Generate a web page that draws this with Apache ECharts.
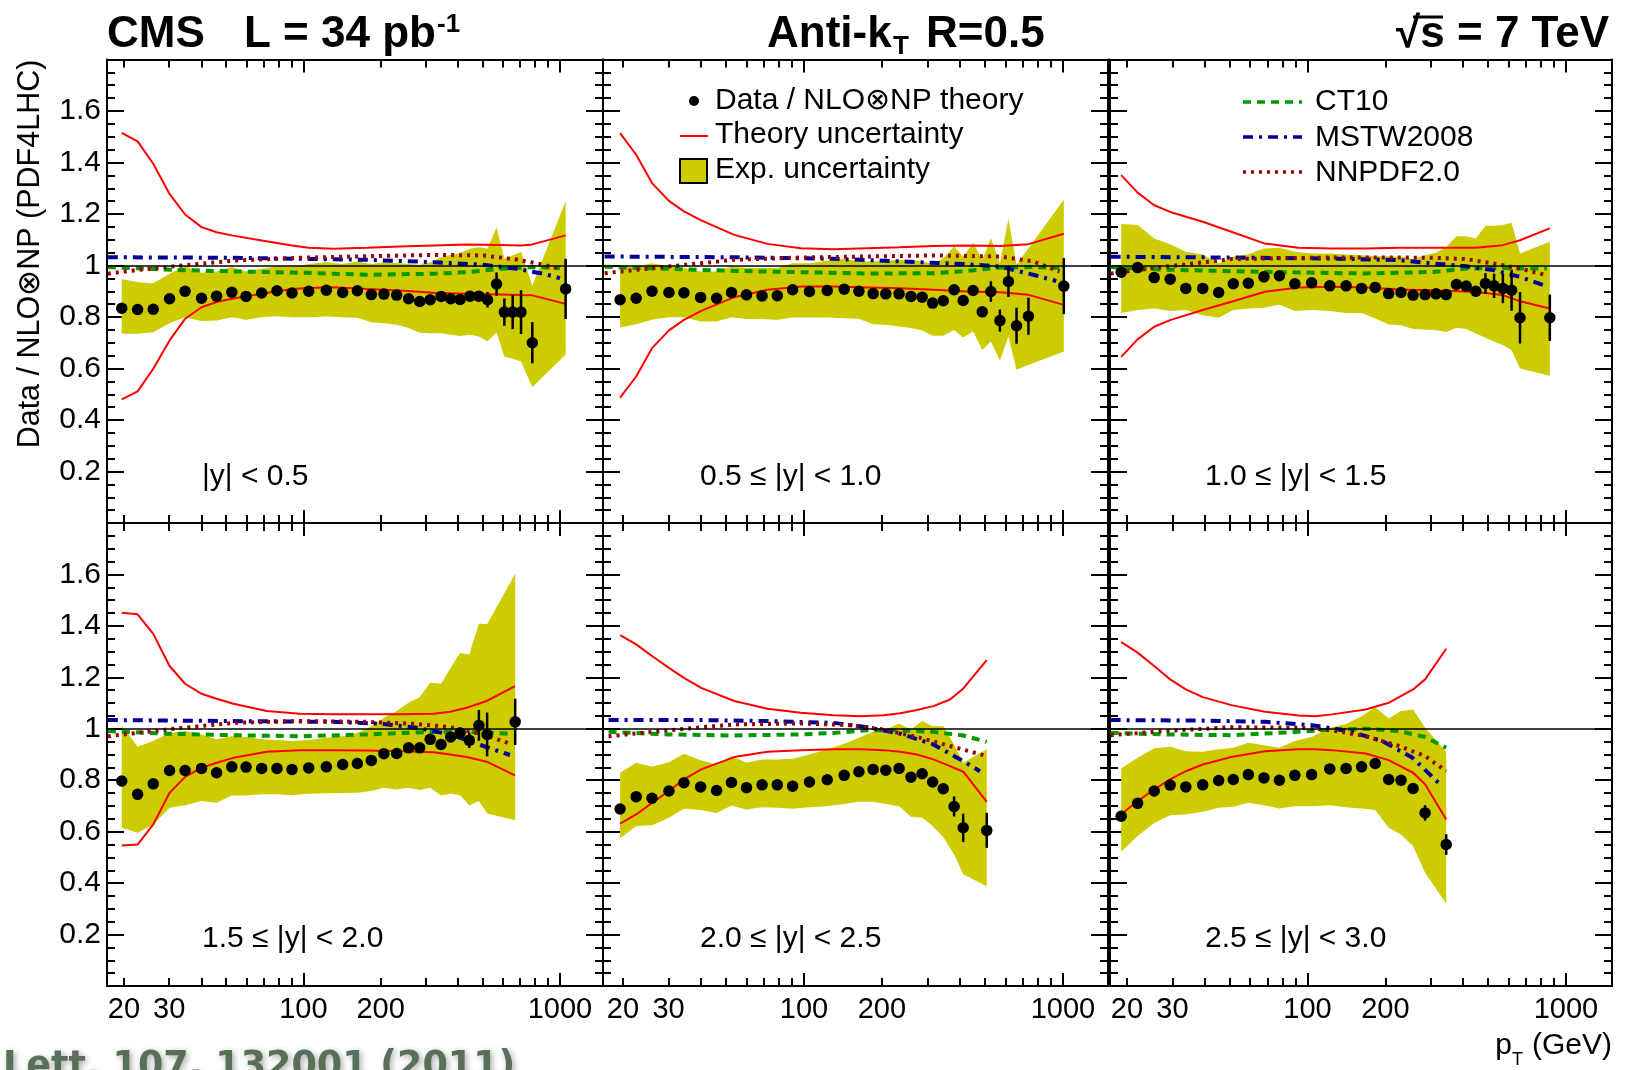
<!DOCTYPE html>
<html><head><meta charset="utf-8">
<script src="https://cdn.jsdelivr.net/npm/echarts@6/dist/echarts.min.js"></script>
<style>html,body{margin:0;padding:0;background:#fff}#c{width:1626px;height:1070px}</style>
</head><body><div id="c"></div><script>
// ---------- DATA ----------
const binLabels = ['|y| < 0.5','0.5 \u2264 |y| < 1.0','1.0 \u2264 |y| < 1.5','1.5 \u2264 |y| < 2.0','2.0 \u2264 |y| < 2.5','2.5 \u2264 |y| < 3.0'];
const xMinorTicks = [20,30,40,50,60,70,80,90,200,300,400,500,600,700,800,900];
const xMajorTicks = [100,1000];
const xTickLabels = [20,30,100,200,1000];

// |y|<0.5
const pt1 = [19.6,22.6,26.0,30.1,34.6,40.1,45.9,52.6,59.8,68.8,78.9,90.3,104.9,122.9,142.3,162.3,184,206,231,257,284,312,344,375,408,446,483,522,566,607,654,705,780,1052];
const ratio1 = [0.834,0.829,0.830,0.871,0.900,0.873,0.881,0.896,0.880,0.893,0.902,0.893,0.900,0.904,0.895,0.902,0.887,0.889,0.885,0.871,0.860,0.867,0.880,0.871,0.868,0.881,0.881,0.867,0.928,0.819,0.819,0.819,0.700,0.909];
const err1 = [0.004,0.004,0.004,0.004,0.004,0.004,0.004,0.004,0.004,0.004,0.004,0.004,0.004,0.004,0.005,0.005,0.005,0.005,0.006,0.006,0.007,0.008,0.009,0.010,0.012,0.015,0.020,0.030,0.045,0.053,0.066,0.085,0.080,0.117];
const expHi1 = [0.948,0.935,0.931,0.968,0.997,0.972,0.977,0.994,0.977,0.987,0.997,0.994,1.006,1.013,1.006,1.016,1.006,1.013,1.010,1.006,1.003,1.013,1.032,1.041,1.049,1.065,1.071,1.065,1.149,1.026,1.039,1.052,0.922,1.250];
const expLo1 = [0.735,0.735,0.741,0.776,0.799,0.784,0.786,0.799,0.789,0.799,0.803,0.799,0.799,0.802,0.799,0.797,0.780,0.776,0.770,0.757,0.739,0.737,0.737,0.731,0.726,0.731,0.724,0.706,0.741,0.647,0.638,0.627,0.527,0.654];
const thX1 = [19.6,22.6,26.0,30.1,34.6,40.1,45.9,52.6,68.8,90.3,104.9,130.9,176.5,238,321,433,584,705,780,1052];
const thUp1 = [1.515,1.482,1.395,1.278,1.198,1.149,1.129,1.117,1.097,1.078,1.069,1.065,1.069,1.074,1.078,1.082,1.080,1.078,1.082,1.117];
const thDn1 = [0.480,0.511,0.599,0.709,0.793,0.838,0.858,0.871,0.890,0.909,0.913,0.916,0.909,0.903,0.894,0.890,0.887,0.885,0.884,0.851];
const ct10X1 = [17.3,31.6,53.4,97,176.5,321,433,584,787,1000];
const ct10_1 = [0.994,0.983,0.977,0.972,0.964,0.968,0.974,0.987,0.994,0.990];
const mstwX1 = [17.3,53.4,176.5,321,503,678,861,1000];
const mstw_1 = [1.032,1.030,1.022,1.013,1.003,0.987,0.968,0.951];
const nnpdfX1 = [17.3,21.8,31.6,53.4,97,176.5,321,503,678,861,1000];
const nnpdf_1 = [0.968,0.981,0.997,1.019,1.030,1.036,1.041,1.039,1.023,1.003,0.987];

// 0.5<=|y|<1.0
const pt2 = [19.5,22.5,25.9,30.1,34.4,39.9,46,52.5,60,68.9,78.9,90.4,105,123,143,163,185,207,233,259,286,314,345,380,412,450,488,527,571,616,662,736,1008];
const ratio2 = [0.867,0.873,0.900,0.895,0.894,0.876,0.873,0.895,0.886,0.882,0.883,0.906,0.899,0.903,0.908,0.900,0.891,0.890,0.890,0.880,0.877,0.854,0.863,0.906,0.864,0.903,0.820,0.899,0.786,0.938,0.766,0.803,0.920];
const err2 = [0.004,0.004,0.004,0.004,0.004,0.004,0.004,0.004,0.004,0.004,0.004,0.004,0.004,0.004,0.005,0.005,0.005,0.005,0.006,0.006,0.007,0.008,0.009,0.010,0.012,0.015,0.020,0.040,0.043,0.060,0.070,0.072,0.109];
const expHi2 = [0.996,0.996,1.009,0.996,0.990,0.977,0.977,0.996,0.990,0.990,0.990,1.009,1.009,1.018,1.026,1.016,1.016,1.018,1.022,1.018,1.018,1.003,1.028,1.074,1.035,1.087,1.022,1.106,1.009,1.181,1.003,1.067,1.255];
const expLo2 = [0.759,0.772,0.789,0.799,0.799,0.783,0.783,0.799,0.792,0.792,0.789,0.798,0.798,0.798,0.795,0.793,0.772,0.770,0.763,0.757,0.748,0.727,0.727,0.750,0.720,0.744,0.672,0.705,0.631,0.724,0.595,0.614,0.666];
const thX2 = [19.5,22.5,25.9,30.1,34.4,40.1,53.8,72.3,97.1,130.4,175.2,235.4,316,425,571,736,1008];
const thUp2 = [1.514,1.430,1.320,1.251,1.210,1.175,1.119,1.084,1.067,1.063,1.067,1.071,1.076,1.078,1.076,1.083,1.123];
const thDn2 = [0.487,0.569,0.679,0.748,0.789,0.824,0.877,0.906,0.918,0.918,0.915,0.912,0.906,0.899,0.896,0.886,0.847];
const ct10X2 = [17.0,29.8,53.8,97.1,175.2,316,425,571,767,970];
const ct10_2 = [0.995,0.987,0.979,0.974,0.969,0.970,0.979,0.992,0.994,0.990];
const mstwX2 = [17.0,53.8,130.4,235.4,425,571,767,942];
const mstw_2 = [1.035,1.032,1.026,1.016,1.005,0.996,0.964,0.940];
const nnpdfX2 = [17.0,29.8,53.8,97.1,175.2,316,571,767,970];
const nnpdf_2 = [0.970,0.996,1.022,1.031,1.035,1.039,1.035,1.016,0.977];

// 1.0<=|y|<1.5
const pt3 = [19.0,22.0,25.5,29.4,33.8,39.3,45.3,51.6,59,67.8,77.8,89.3,103.7,121.9,141,161.8,182.8,206,230,256,285,314,344,377,411,448,488,527,570,616,664,866];
const ratio3 = [0.974,0.992,0.953,0.947,0.911,0.911,0.895,0.929,0.931,0.956,0.960,0.929,0.933,0.921,0.921,0.911,0.915,0.891,0.895,0.885,0.887,0.890,0.887,0.926,0.920,0.900,0.930,0.921,0.911,0.904,0.797,0.797];
const err3 = [0.004,0.004,0.004,0.004,0.004,0.004,0.004,0.004,0.004,0.004,0.004,0.004,0.004,0.004,0.005,0.005,0.005,0.006,0.006,0.007,0.008,0.009,0.010,0.012,0.015,0.020,0.040,0.047,0.057,0.080,0.100,0.090];
const expHi3 = [1.161,1.157,1.105,1.083,1.053,1.043,1.008,1.034,1.044,1.066,1.069,1.053,1.047,1.047,1.043,1.040,1.036,1.036,1.034,1.025,1.040,1.050,1.072,1.114,1.114,1.105,1.154,1.154,1.157,1.166,1.047,1.092];
const expLo3 = [0.816,0.827,0.833,0.823,0.827,0.807,0.797,0.827,0.833,0.836,0.849,0.823,0.827,0.823,0.816,0.816,0.794,0.771,0.768,0.753,0.751,0.749,0.742,0.758,0.753,0.736,0.719,0.704,0.691,0.671,0.600,0.572];
const thX3 = [19.0,22.0,25.5,29.4,39.3,50.7,68.4,92.2,124.4,167.8,226.2,305,448,570,664,866];
const thUp3 = [1.351,1.283,1.234,1.208,1.170,1.131,1.085,1.069,1.066,1.066,1.069,1.069,1.069,1.079,1.098,1.144];
const thDn3 = [0.645,0.713,0.762,0.788,0.827,0.859,0.898,0.915,0.917,0.915,0.907,0.904,0.897,0.885,0.861,0.833];
const ct10X3 = [17.3,27.9,50.7,92.2,167.8,305,411,555,664,843];
const ct10_3 = [0.994,0.984,0.978,0.973,0.969,0.975,0.988,0.991,0.988,0.988];
const mstwX3 = [17.3,50.7,124.4,226.2,305,411,522,664,818];
const mstw_3 = [1.034,1.031,1.027,1.021,1.008,0.997,0.982,0.956,0.924];
const nnpdfX3 = [17.3,27.9,50.7,124.4,226.2,305,411,522,664,843];
const nnpdf_3 = [0.969,0.995,1.025,1.031,1.031,1.030,1.025,1.008,0.988,0.962];

// 1.5<=|y|<2.0
const pt4 = [19.6,22.6,26.0,30.1,34.6,40.1,45.9,52.6,59.8,68.8,78.9,90.3,104.9,122.9,142.3,162.3,184,206,231,257,284,312,344,375,408,443,483,520,669];
const ratio4 = [0.797,0.745,0.786,0.838,0.838,0.846,0.829,0.852,0.851,0.846,0.846,0.842,0.848,0.852,0.861,0.865,0.877,0.903,0.904,0.926,0.926,0.959,0.939,0.968,0.984,0.955,1.013,0.978,1.027];
const err4 = [0.004,0.004,0.004,0.004,0.004,0.004,0.004,0.004,0.004,0.004,0.004,0.004,0.004,0.004,0.005,0.005,0.006,0.007,0.008,0.009,0.010,0.012,0.015,0.018,0.020,0.030,0.060,0.085,0.090];
const expHi4 = [1.013,0.930,0.952,0.984,0.991,0.978,0.959,0.971,0.968,0.959,0.956,0.952,0.956,0.965,0.971,0.984,1.010,1.043,1.069,1.101,1.123,1.179,1.175,1.237,1.295,1.289,1.408,1.406,1.603];
const expLo4 = [0.615,0.596,0.628,0.693,0.703,0.719,0.712,0.741,0.741,0.745,0.745,0.742,0.747,0.749,0.750,0.751,0.758,0.771,0.764,0.771,0.762,0.771,0.741,0.747,0.742,0.702,0.719,0.671,0.644];
const thX4 = [19.6,22.6,26.0,30.1,34.6,40.1,45.9,53.4,72,97,130.9,176.5,238,321,373,433,518,668];
const thUp4 = [1.451,1.445,1.369,1.244,1.175,1.136,1.117,1.097,1.069,1.058,1.056,1.056,1.056,1.058,1.066,1.082,1.108,1.166];
const thDn4 = [0.546,0.550,0.628,0.751,0.813,0.848,0.868,0.887,0.911,0.917,0.917,0.916,0.913,0.909,0.900,0.890,0.872,0.819];
const ct10X4 = [17.3,29.3,53.4,97,176.5,321,433,638];
const ct10_4 = [0.991,0.981,0.975,0.971,0.978,0.988,0.988,0.981];
const mstwX4 = [17.3,53.4,130.9,205,276,373,503,638];
const mstw_4 = [1.034,1.030,1.027,1.019,1.004,0.978,0.933,0.898];
const nnpdfX4 = [17.3,29.3,53.4,97,176.5,276,373,503,638];
const nnpdf_4 = [0.971,0.997,1.023,1.030,1.027,1.019,1.006,0.978,0.942];

// 2.0<=|y|<2.5
const pt5 = [19.5,22.5,25.9,30.1,34.4,39.9,46,52.5,60,68.9,78.9,90.4,105,123,143,163,185,207,233,259,286,314,345,380,412,508];
const ratio5 = [0.688,0.736,0.730,0.758,0.790,0.774,0.760,0.791,0.771,0.782,0.782,0.777,0.793,0.802,0.819,0.833,0.842,0.839,0.846,0.812,0.825,0.793,0.767,0.698,0.615,0.605];
const err5 = [0.004,0.004,0.004,0.004,0.004,0.004,0.004,0.004,0.004,0.004,0.004,0.004,0.004,0.004,0.005,0.005,0.006,0.007,0.008,0.009,0.010,0.012,0.020,0.039,0.055,0.068];
const expHi5 = [0.829,0.868,0.852,0.870,0.903,0.878,0.861,0.894,0.868,0.881,0.881,0.883,0.900,0.920,0.942,0.965,0.988,0.997,1.021,0.997,1.030,1.010,1.010,0.939,0.868,0.920];
const expLo5 = [0.574,0.622,0.625,0.654,0.689,0.684,0.673,0.702,0.686,0.695,0.693,0.689,0.695,0.699,0.708,0.716,0.716,0.708,0.699,0.658,0.654,0.622,0.579,0.511,0.434,0.388];
const thX5 = [19.5,22.5,25.9,30.1,34.4,40.1,53.8,72.3,97.1,130.4,165.2,203,235.4,272.9,316,366.5,412.5,508];
const thUp5 = [1.364,1.328,1.283,1.237,1.198,1.159,1.108,1.078,1.062,1.053,1.049,1.053,1.060,1.073,1.088,1.114,1.157,1.267];
const thDn5 = [0.631,0.667,0.712,0.758,0.803,0.842,0.890,0.911,0.917,0.920,0.920,0.917,0.911,0.900,0.881,0.855,0.833,0.716];
const ct10X5 = [17.6,29.8,53.8,97.1,130.4,175.2,235.4,316,412.5,508];
const ct10_5 = [0.988,0.978,0.974,0.978,0.984,0.994,0.994,0.988,0.974,0.949];
const mstwX5 = [17.6,40.1,72.3,130.4,175.2,235.4,316,412.5,478];
const mstw_5 = [1.034,1.034,1.030,1.023,1.006,0.981,0.939,0.874,0.835];
const nnpdfX5 = [17.6,29.8,53.8,97.1,151.2,203,272.9,366.5,508];
const nnpdf_5 = [0.971,0.994,1.017,1.021,1.014,0.997,0.968,0.933,0.894];

// 2.5<=|y|<3.0
const pt6 = [19.0,22.0,25.5,29.4,33.8,39.3,45.3,51.6,59,67.8,77.8,89.3,103.7,121.9,141,161.8,182.8,206,230,256,285,344];
const ratio6 = [0.660,0.710,0.758,0.781,0.774,0.782,0.799,0.803,0.822,0.809,0.800,0.819,0.822,0.844,0.846,0.852,0.865,0.803,0.800,0.768,0.673,0.550];
const err6 = [0.004,0.004,0.004,0.004,0.004,0.004,0.004,0.004,0.004,0.004,0.004,0.004,0.004,0.004,0.005,0.005,0.006,0.007,0.008,0.010,0.030,0.040];
const expHi6 = [0.846,0.887,0.924,0.930,0.913,0.911,0.920,0.926,0.946,0.936,0.926,0.952,0.968,1.004,1.019,1.049,1.084,1.040,1.069,1.075,1.004,0.911];
const expLo6 = [0.522,0.583,0.634,0.664,0.667,0.677,0.693,0.697,0.712,0.703,0.690,0.699,0.699,0.703,0.695,0.690,0.684,0.615,0.589,0.544,0.440,0.320];
const thX6 = [19.0,22.0,25.5,29.4,33.8,39.3,50.7,68.4,92.2,107.1,124.4,167.8,206,256,285,344];
const thUp6 = [1.337,1.296,1.244,1.192,1.153,1.123,1.092,1.066,1.052,1.049,1.056,1.075,1.101,1.153,1.192,1.311];
const thDn6 = [0.667,0.719,0.764,0.803,0.835,0.861,0.890,0.913,0.920,0.920,0.917,0.904,0.878,0.829,0.784,0.647];
const ct10X6 = [17.3,27.9,50.7,92.2,124.4,167.8,226.2,285,344];
const ct10_6 = [0.984,0.978,0.975,0.988,0.997,1.000,0.991,0.968,0.926];
const mstwX6 = [17.3,37.6,68.4,104,144.5,194.8,255,324];
const mstw_6 = [1.034,1.032,1.027,1.014,0.991,0.952,0.887,0.786];
const nnpdfX6 = [17.3,27.9,50.7,92.2,124.4,167.8,226.2,285,344];
const nnpdf_6 = [0.975,0.991,1.006,1.004,0.994,0.971,0.933,0.894,0.835];

// ---------- BUILD ----------
const panels = [
  {pt:pt1,r:ratio1,e:err1,hi:expHi1,lo:expLo1,thX:thX1,thU:thUp1,thD:thDn1,cX:ct10X1,c:ct10_1,mX:mstwX1,m:mstw_1,nX:nnpdfX1,n:nnpdf_1},
  {pt:pt2,r:ratio2,e:err2,hi:expHi2,lo:expLo2,thX:thX2,thU:thUp2,thD:thDn2,cX:ct10X2,c:ct10_2,mX:mstwX2,m:mstw_2,nX:nnpdfX2,n:nnpdf_2},
  {pt:pt3,r:ratio3,e:err3,hi:expHi3,lo:expLo3,thX:thX3,thU:thUp3,thD:thDn3,cX:ct10X3,c:ct10_3,mX:mstwX3,m:mstw_3,nX:nnpdfX3,n:nnpdf_3},
  {pt:pt4,r:ratio4,e:err4,hi:expHi4,lo:expLo4,thX:thX4,thU:thUp4,thD:thDn4,cX:ct10X4,c:ct10_4,mX:mstwX4,m:mstw_4,nX:nnpdfX4,n:nnpdf_4},
  {pt:pt5,r:ratio5,e:err5,hi:expHi5,lo:expLo5,thX:thX5,thU:thUp5,thD:thDn5,cX:ct10X5,c:ct10_5,mX:mstwX5,m:mstw_5,nX:nnpdfX5,n:nnpdf_5},
  {pt:pt6,r:ratio6,e:err6,hi:expHi6,lo:expLo6,thX:thX6,thU:thUp6,thD:thDn6,cX:ct10X6,c:ct10_6,mX:mstwX6,m:mstw_6,nX:nnpdfX6,n:nnpdf_6}
];

const FF = '"Liberation Sans", Arial, Helvetica, sans-serif';
const colLeft = [107, 603, 1110], colWidth = [496, 505, 502];
const rowTop = [59.5, 523], rowHeight = [463.5, 463];
const xMin = [17.17, 16.75, 17.2], xMax = [1471, 1493, 1507];
const BAND = '#cccc00', RED = '#ff0000', GREEN = '#009900', BLUE = '#000099', DRED = '#990000';
const zip = (xs, ys) => xs.map((x, k) => [x, ys[k]]);

const grid = [], xAxis = [], yAxis = [], series = [];
const tickStyle = {color:'#000', width:2};
panels.forEach((P, i) => {
  const r = i < 3 ? 0 : 1, c = i % 3;
  grid.push({left: colLeft[c], top: rowTop[r], width: colWidth[c], height: rowHeight[r], containLabel:false, outerBoundsMode:'none'});
  const baseX = {type:'log', logBase:10, gridIndex:i, min:xMin[c], max:xMax[c], splitLine:{show:false}, minorTick:{show:false},
    axisLine:{show:true, onZero:false, lineStyle:{color:'#000', width:2}}, axisLabel:{show:false}};
  xAxis.push(Object.assign({}, baseX, {position:'bottom', axisTick:{show:true, inside:true, length:8, customValues:xMinorTicks, lineStyle:tickStyle}}));
  xAxis.push(Object.assign({}, baseX, {position:'bottom', axisTick:{show:true, inside:true, length:13, customValues:xMajorTicks, lineStyle:tickStyle},
    axisLabel: r === 1 ? {show:true, customValues:xTickLabels, formatter:v => String(Math.round(v)), fontSize:29, fontFamily:FF, color:'#000', margin:9} : {show:false}}));
  xAxis.push(Object.assign({}, baseX, {position:'top', axisTick:{show:true, inside:true, length:8, customValues:xMinorTicks, lineStyle:tickStyle}}));
  xAxis.push(Object.assign({}, baseX, {position:'top', axisTick:{show:true, inside:true, length:13, customValues:xMajorTicks, lineStyle:tickStyle}}));
  const baseY = {type:'value', gridIndex:i, min:0, max:1.8, interval:0.2, splitLine:{show:false}, minorSplitLine:{show:false},
    axisLine:{show:true, onZero:false, lineStyle:{color:'#000', width:2}},
    axisTick:{show:true, inside:true, length:17, lineStyle:tickStyle},
    minorTick:{show:true, splitNumber:4, length:8, lineStyle:tickStyle}};
  yAxis.push(Object.assign({}, baseY, {position:'left',
    axisLabel: c === 0 ? {show:true, fontSize:30, fontFamily:FF, color:'#000', margin:6,
      formatter: v => (v < 0.1 || v > 1.7) ? '' : String(+v.toFixed(1))} : {show:false}}));
  yAxis.push(Object.assign({}, baseY, {position:'right', axisLabel:{show:false}}));

  const xi = 4 * i, yi = 2 * i;
  // experimental uncertainty band
  series.push({type:'custom', xAxisIndex:xi, yAxisIndex:yi, z:1, silent:true,
    data: P.pt.map((x, k) => [x, P.lo[k], P.hi[k]]), encode:{x:0, y:[1,2]},
    renderItem: (params, api) => {
      if (params.dataIndex !== 0) return null;
      const pts = [];
      for (let k = 0; k < P.pt.length; k++) pts.push(api.coord([P.pt[k], P.hi[k]]));
      for (let k = P.pt.length - 1; k >= 0; k--) pts.push(api.coord([P.pt[k], P.lo[k]]));
      return {type:'polygon', shape:{points:pts}, style:{fill:BAND}};
    }});
  const lineS = (data, color, width, type, z, extra) => Object.assign({type:'line', xAxisIndex:xi, yAxisIndex:yi, data, symbol:'none', showSymbol:false, silent:true, z,
    lineStyle:{color, width, type, cap:'butt', opacity:1}}, extra || {});
  series.push(lineS(zip(P.cX, P.c), GREEN, 4, [8, 6], 3, {markLine:{silent:true, symbol:['none','none'], label:{show:false},
    lineStyle:{color:'#000', width:1.6, type:'solid', opacity:1}, data:[{yAxis:1}], animation:false}}));
  series.push(lineS(zip(P.mX, P.m), BLUE, 4, [10, 6, 3, 6], 3));
  series.push(lineS(zip(P.nX, P.n), DRED, 4, [3, 5], 3));
  series.push(lineS(zip(P.thX, P.thU), RED, 2, 'solid', 4));
  series.push(lineS(zip(P.thX, P.thD), RED, 2, 'solid', 4));
  // error bars
  series.push({type:'custom', xAxisIndex:xi, yAxisIndex:yi, z:5, silent:true,
    data: P.pt.map((x, k) => [x, P.r[k], P.e[k]]), encode:{x:0, y:1},
    renderItem: (params, api) => {
      const x = api.value(0), y = api.value(1), e = api.value(2);
      const a = api.coord([x, y - e]), b = api.coord([x, y + e]);
      return {type:'line', shape:{x1:a[0], y1:a[1], x2:b[0], y2:b[1]}, style:{stroke:'#000', lineWidth:2.5}};
    }});
  series.push({type:'scatter', xAxisIndex:xi, yAxisIndex:yi, z:6, silent:true, data: zip(P.pt, P.r),
    symbol:'circle', symbolSize:11.5, itemStyle:{color:'#000', opacity:1}});
});

function txt(text, x, y, size, o) {
  return Object.assign({type:'text', x, y, silent:true, z:100,
    style: Object.assign({text, fontSize:size, fontFamily:FF, fill:'#000', textAlign:'left', textVerticalAlign:'middle'}, (o && o.style) || {})},
    (o && o.el) || {});
}
const g = [];
// header
g.push(txt('CMS', 107, 35, 44, {style:{fontWeight:'bold'}}));
g.push(txt('L = 34 pb', 244, 35, 44, {style:{fontWeight:'bold'}}));
g.push(txt('-1', 437, 25, 26, {style:{fontWeight:'bold'}}));
g.push(txt('Anti-k', 767, 35, 44, {style:{fontWeight:'bold'}}));
g.push(txt('T', 893, 47, 26, {style:{fontWeight:'bold'}}));
g.push(txt('R=0.5', 926, 35, 44, {style:{fontWeight:'bold'}}));
g.push(txt('\u221As = 7 TeV', 1609, 35, 44, {style:{fontWeight:'bold', textAlign:'right'}}));
g.push({type:'line', silent:true, z:100, shape:{x1:1413, y1:17, x2:1443, y2:17}, style:{stroke:'#000', lineWidth:3}});
// y axis title
g.push(txt('Data / NLO\u2297NP (PDF4LHC)', 31, 254, 30.5, {style:{textAlign:'center'}, el:{rotation:Math.PI/2}}));
// panel labels
const labX = [202, 700, 1205], labY = [477, 939];
binLabels.forEach((t, i) => g.push(txt(t, labX[i % 3], labY[i < 3 ? 0 : 1], 30)));
// legend 1
g.push({type:'circle', silent:true, z:100, shape:{cx:694, cy:101, r:5}, style:{fill:'#000'}});
g.push(txt('Data / NLO\u2297NP theory', 715, 101, 30));
g.push({type:'line', silent:true, z:100, shape:{x1:680, y1:136, x2:708, y2:136}, style:{stroke:RED, lineWidth:2}});
g.push(txt('Theory uncertainty', 715, 135, 30));
g.push({type:'rect', silent:true, z:100, shape:{x:680, y:159, width:27, height:24}, style:{fill:BAND, stroke:'#000', lineWidth:2}});
g.push(txt('Exp. uncertainty', 715, 170, 30));
// legend 2
g.push({type:'line', silent:true, z:100, shape:{x1:1243, y1:102, x2:1302, y2:102}, style:{stroke:GREEN, lineWidth:3.5, lineDash:[8,6]}});
g.push(txt('CT10', 1315, 102, 30));
g.push({type:'line', silent:true, z:100, shape:{x1:1243, y1:137, x2:1302, y2:137}, style:{stroke:BLUE, lineWidth:3.5, lineDash:[10,6,3,6]}});
g.push(txt('MSTW2008', 1315, 138, 30));
g.push({type:'line', silent:true, z:100, shape:{x1:1243, y1:172, x2:1302, y2:172}, style:{stroke:DRED, lineWidth:3.5, lineDash:[3,5]}});
g.push(txt('NNPDF2.0', 1315, 173, 30));
// x axis title
g.push(txt('p', 1512, 1046, 30, {style:{textAlign:'right'}}));
g.push(txt('T', 1512, 1060, 18));
g.push(txt('(GeV)', 1612, 1046, 30, {style:{textAlign:'right'}}));
// journal reference (cut at bottom)
g.push(txt('Lett. 107, 132001 (2011)', 3, 1068, 36.5, {style:{fontFamily:'"DejaVu Sans", Verdana, sans-serif', fontWeight:'bold', fill:'#587058',
  textShadowColor:'rgba(0,0,0,0.35)', textShadowBlur:6, textShadowOffsetX:2, textShadowOffsetY:2}}));

const chart = echarts.init(document.getElementById('c'), null, {renderer:'canvas'});
chart.setOption({animation:false, backgroundColor:'#fff', grid, xAxis, yAxis, series, graphic:{elements:g}});
</script></body></html>
